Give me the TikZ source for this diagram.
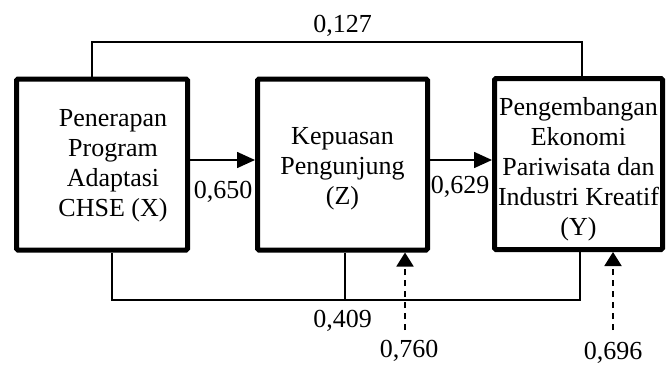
\documentclass[tikz,border=0pt]{standalone}
\usepackage{fontspec}
\setmainfont{Liberation Serif}
\usetikzlibrary{arrows.meta}
\begin{document}
\begin{tikzpicture}[x=1pt,y=-1pt,
  box/.style={draw, line width=5pt, rounded corners=1.5pt, minimum width=#1, minimum height=171pt, inner sep=0pt},
  txt/.style={align=center, font=\fontsize{26}{30}\selectfont, inner sep=0pt},
  lab/.style={font=\fontsize{26}{30}\selectfont, inner sep=0pt, anchor=base},
  conn/.style={draw, line width=1.3pt},
  arr/.style={draw, line width=1.6pt, -{Triangle[length=18pt,width=16pt]}},
  dasharr/.style={draw, line width=1.9pt, dash pattern=on 6pt off 5pt, -{Triangle[length=14pt,width=17pt]}}]
\useasboundingbox (0,0) rectangle (667,365);
\node[box=171pt] (X) at (102,164.5) {};
\node[box=170pt] (Z) at (342.5,164.5) {};
\node[box=168pt] (Y) at (578.5,164) {};
\node[txt] (Xt) at (113,166) {Penerapan\\Program\\Adaptasi\\CHSE (X)};
\node[txt] (Zt) at (342.5,169) {Kepuasan\\Pengunjung\\(Z)};
\node[txt] (Yt) at (578.5,169) {Pengembangan\\Ekonomi\\Pariwisata dan\\Industri Kreatif\\(Y)};
% direct arrows
\draw[arr] ([yshift=4.5pt]X.east) coordinate (a1) -- (a1 -| Z.west);
\draw[arr] ([yshift=4.5pt]Z.east) coordinate (a2) -- (a2 -| Y.west);
% top connector
\coordinate (ctop) at (342,42);
\draw[conn] ([xshift=-10pt]X.north) |- (ctop) -| ([xshift=3.5pt]Y.north);
% bottom connector
\coordinate (cbot) at (345,300);
\draw[conn] ([xshift=10pt]X.south) |- (cbot) -| ([xshift=1.5pt]Y.south);
\draw[conn] (cbot) -- (cbot |- Z.south);
% error arrows
\coordinate (ez) at (405,330);
\coordinate (ey) at (613,330);
\draw[dasharr] (ez) -- (ez |- Z.south);
\draw[dasharr] (ey) -- (ey |- Y.south);
% labels
\node[lab] (l127) at (342.5,32) {0,127};
\node[lab] (l650) at (223,198) {0,650};
\node[lab] (l629) at (460,193) {0,629};
\node[lab] (l409) at (342.5,327) {0,409};
\node[lab] (l760) at (409,357) {0,760};
\node[lab] (l696) at (613,359) {0,696};
\end{tikzpicture}
\end{document}
